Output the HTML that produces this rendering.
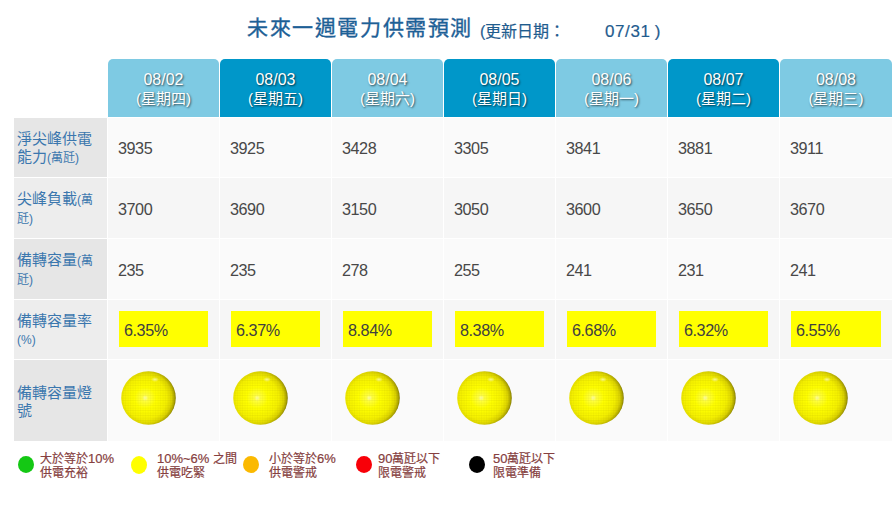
<!DOCTYPE html>
<html lang="zh-TW"><head><meta charset="utf-8">
<style>
*{margin:0;padding:0;box-sizing:border-box}
html,body{width:893px;height:506px;overflow:hidden;background:#fff;font-family:"Liberation Sans",sans-serif}
.a{position:absolute}
.title{left:247px;top:13.5px;font-size:21px;color:#1d6096;white-space:nowrap;line-height:28px;-webkit-text-stroke:0.35px #1d6096;letter-spacing:1.6px}
.sub{font-size:17px;color:#1f5c8e;white-space:nowrap;line-height:20px;-webkit-text-stroke:0.2px #1f5c8e}
.hd{top:59px;width:111px;height:58px;border-radius:5px 5px 0 0;color:#fff;text-align:center;font-size:16px;line-height:18.5px;padding-top:12px;text-shadow:1px 1px 2px rgba(0,0,0,.65)}
.wk{font-size:15px}
.l{background:#7ecae3}.d{background:#0097c9}
.lab{left:14px;width:93px;color:#3b77ae;font-size:15px;line-height:18px;padding-left:3px;padding-top:2px;display:flex;align-items:center}
.lab small{font-size:12px}
.cell{width:111px;color:#484848;font-size:16.2px;letter-spacing:-0.45px;display:flex;align-items:center;padding-left:10px;padding-top:2px}
.pct{width:89px;height:36px;background:#ffff00;color:#404040;font-size:16.2px;letter-spacing:-0.45px;line-height:36px;padding-left:5px;padding-top:1px}
.ball{width:55px;height:54px;border-radius:50%;background:radial-gradient(circle at 45% 45%,#ffff40 0%,#f8f000 45%,#e0d400 85%,#b8a800 100%)}
.lg{width:16px;height:17px;border-radius:50%;top:456px}
.lt{top:452px;font-size:12px;font-weight:normal;-webkit-text-stroke:0.2px #864040;color:#864040;line-height:14px;white-space:nowrap}
.lt b{font-size:13px;line-height:10px;font-weight:normal}
</style></head><body>
<svg width="0" height="0" style="position:absolute"><defs>
<radialGradient id="bg1" cx="0.44" cy="0.5" r="0.56"><stop offset="0" stop-color="#ffffa8"/><stop offset="0.1" stop-color="#ffff40"/><stop offset="0.35" stop-color="#ffff00"/><stop offset="0.7" stop-color="#f4f000"/><stop offset="0.86" stop-color="#dcd400"/><stop offset="0.95" stop-color="#b0a800"/><stop offset="1" stop-color="#807800"/></radialGradient>
<radialGradient id="hl" cx="0.5" cy="0.5" r="0.5"><stop offset="0" stop-color="#fff" stop-opacity="0.55"/><stop offset="1" stop-color="#fff" stop-opacity="0"/></radialGradient>
<pattern id="grid" width="2.5" height="2.5" patternUnits="userSpaceOnUse"><rect x="0" y="1.9" width="2.5" height="0.6" fill="#605000" fill-opacity="0.09"/><rect x="1.9" y="0" width="0.6" height="2.5" fill="#605000" fill-opacity="0.05"/></pattern>

</defs></svg>
<div class="a title">未來一週電力供需預測</div>
<div class="a sub" style="left:480px;top:22px;font-size:16px">(更新日期：</div>
<div class="a sub" style="left:605px;top:22px;letter-spacing:0.6px;word-spacing:-1px">07/31 )</div>

<div class="a hd l" style="left:108px">08/02<br><span class="wk">(星期四)</span></div>
<div class="a hd d" style="left:220px">08/03<br><span class="wk">(星期五)</span></div>
<div class="a hd l" style="left:332px">08/04<br><span class="wk">(星期六)</span></div>
<div class="a hd d" style="left:444px">08/05<br><span class="wk">(星期日)</span></div>
<div class="a hd l" style="left:556px">08/06<br><span class="wk">(星期一)</span></div>
<div class="a hd d" style="left:668px">08/07<br><span class="wk">(星期二)</span></div>
<div class="a hd l" style="left:780px;width:112px">08/08<br><span class="wk">(星期三)</span></div>
<div class="a lab" style="top:118px;height:59px;background:#e6e6e6"><div>淨尖峰供電<br>能力<small>(萬瓩)</small></div></div>
<div class="a cell" style="left:108px;top:118px;height:59px;background:#fafafa">3935</div>
<div class="a cell" style="left:220px;top:118px;height:59px;background:#fafafa">3925</div>
<div class="a cell" style="left:332px;top:118px;height:59px;background:#fafafa">3428</div>
<div class="a cell" style="left:444px;top:118px;height:59px;background:#fafafa">3305</div>
<div class="a cell" style="left:556px;top:118px;height:59px;background:#fafafa">3841</div>
<div class="a cell" style="left:668px;top:118px;height:59px;background:#fafafa">3881</div>
<div class="a cell" style="left:780px;top:118px;height:59px;background:#fafafa;width:112px">3911</div>
<div class="a lab" style="top:178px;height:60px;background:#ededed"><div>尖峰負載<small>(萬<br>瓩)</small></div></div>
<div class="a cell" style="left:108px;top:178px;height:60px;background:#f6f6f6">3700</div>
<div class="a cell" style="left:220px;top:178px;height:60px;background:#f6f6f6">3690</div>
<div class="a cell" style="left:332px;top:178px;height:60px;background:#f6f6f6">3150</div>
<div class="a cell" style="left:444px;top:178px;height:60px;background:#f6f6f6">3050</div>
<div class="a cell" style="left:556px;top:178px;height:60px;background:#f6f6f6">3600</div>
<div class="a cell" style="left:668px;top:178px;height:60px;background:#f6f6f6">3650</div>
<div class="a cell" style="left:780px;top:178px;height:60px;background:#f6f6f6;width:112px">3670</div>
<div class="a lab" style="top:239px;height:60px;background:#e6e6e6"><div>備轉容量<small>(萬<br>瓩)</small></div></div>
<div class="a cell" style="left:108px;top:239px;height:60px;background:#fafafa">235</div>
<div class="a cell" style="left:220px;top:239px;height:60px;background:#fafafa">235</div>
<div class="a cell" style="left:332px;top:239px;height:60px;background:#fafafa">278</div>
<div class="a cell" style="left:444px;top:239px;height:60px;background:#fafafa">255</div>
<div class="a cell" style="left:556px;top:239px;height:60px;background:#fafafa">241</div>
<div class="a cell" style="left:668px;top:239px;height:60px;background:#fafafa">231</div>
<div class="a cell" style="left:780px;top:239px;height:60px;background:#fafafa;width:112px">241</div>
<div class="a lab" style="top:300px;height:59px;background:#ededed"><div>備轉容量率<br><small>(%)</small></div></div>
<div class="a cell" style="left:108px;top:300px;height:59px;background:#f6f6f6"></div>
<div class="a cell" style="left:220px;top:300px;height:59px;background:#f6f6f6"></div>
<div class="a cell" style="left:332px;top:300px;height:59px;background:#f6f6f6"></div>
<div class="a cell" style="left:444px;top:300px;height:59px;background:#f6f6f6"></div>
<div class="a cell" style="left:556px;top:300px;height:59px;background:#f6f6f6"></div>
<div class="a cell" style="left:668px;top:300px;height:59px;background:#f6f6f6"></div>
<div class="a cell" style="left:780px;top:300px;height:59px;background:#f6f6f6;width:112px"></div>
<div class="a pct" style="left:119px;top:311px">6.35%</div>
<div class="a pct" style="left:231px;top:311px">6.37%</div>
<div class="a pct" style="left:343px;top:311px">8.84%</div>
<div class="a pct" style="left:455px;top:311px">8.38%</div>
<div class="a pct" style="left:567px;top:311px">6.68%</div>
<div class="a pct" style="left:679px;top:311px">6.32%</div>
<div class="a pct" style="left:791px;top:311px;width:90px">6.55%</div>
<div class="a lab" style="top:360px;height:81px;background:#e6e6e6"><div>備轉容量燈<br>號</div></div>
<div class="a cell" style="left:108px;top:360px;height:81px;background:#fafafa"></div>
<div class="a cell" style="left:220px;top:360px;height:81px;background:#fafafa"></div>
<div class="a cell" style="left:332px;top:360px;height:81px;background:#fafafa"></div>
<div class="a cell" style="left:444px;top:360px;height:81px;background:#fafafa"></div>
<div class="a cell" style="left:556px;top:360px;height:81px;background:#fafafa"></div>
<div class="a cell" style="left:668px;top:360px;height:81px;background:#fafafa"></div>
<div class="a cell" style="left:780px;top:360px;height:81px;background:#fafafa;width:112px"></div>
<svg class="a" style="left:121px;top:371px" width="55" height="54" viewBox="0 0 55 54"><ellipse cx="27.5" cy="27" rx="27.3" ry="26.8" fill="url(#bg1)"/><ellipse cx="27.5" cy="27" rx="26.5" ry="26" fill="url(#grid)"/><ellipse cx="34" cy="8.5" rx="4" ry="2.5" fill="url(#hl)"/></svg>
<svg class="a" style="left:233px;top:371px" width="55" height="54" viewBox="0 0 55 54"><ellipse cx="27.5" cy="27" rx="27.3" ry="26.8" fill="url(#bg1)"/><ellipse cx="27.5" cy="27" rx="26.5" ry="26" fill="url(#grid)"/><ellipse cx="34" cy="8.5" rx="4" ry="2.5" fill="url(#hl)"/></svg>
<svg class="a" style="left:345px;top:371px" width="55" height="54" viewBox="0 0 55 54"><ellipse cx="27.5" cy="27" rx="27.3" ry="26.8" fill="url(#bg1)"/><ellipse cx="27.5" cy="27" rx="26.5" ry="26" fill="url(#grid)"/><ellipse cx="34" cy="8.5" rx="4" ry="2.5" fill="url(#hl)"/></svg>
<svg class="a" style="left:457px;top:371px" width="55" height="54" viewBox="0 0 55 54"><ellipse cx="27.5" cy="27" rx="27.3" ry="26.8" fill="url(#bg1)"/><ellipse cx="27.5" cy="27" rx="26.5" ry="26" fill="url(#grid)"/><ellipse cx="34" cy="8.5" rx="4" ry="2.5" fill="url(#hl)"/></svg>
<svg class="a" style="left:569px;top:371px" width="55" height="54" viewBox="0 0 55 54"><ellipse cx="27.5" cy="27" rx="27.3" ry="26.8" fill="url(#bg1)"/><ellipse cx="27.5" cy="27" rx="26.5" ry="26" fill="url(#grid)"/><ellipse cx="34" cy="8.5" rx="4" ry="2.5" fill="url(#hl)"/></svg>
<svg class="a" style="left:681px;top:371px" width="55" height="54" viewBox="0 0 55 54"><ellipse cx="27.5" cy="27" rx="27.3" ry="26.8" fill="url(#bg1)"/><ellipse cx="27.5" cy="27" rx="26.5" ry="26" fill="url(#grid)"/><ellipse cx="34" cy="8.5" rx="4" ry="2.5" fill="url(#hl)"/></svg>
<svg class="a" style="left:793px;top:371px" width="55" height="54" viewBox="0 0 55 54"><ellipse cx="27.5" cy="27" rx="27.3" ry="26.8" fill="url(#bg1)"/><ellipse cx="27.5" cy="27" rx="26.5" ry="26" fill="url(#grid)"/><ellipse cx="34" cy="8.5" rx="4" ry="2.5" fill="url(#hl)"/></svg>
<div class="a lg" style="left:18px;background:#14c814"></div>
<div class="a lt" style="left:40px">大於等於<b>10%</b><br>供電充裕</div>
<div class="a lg" style="left:131px;background:#ffff00;height:18px"></div>
<div class="a lt" style="left:157px"><b>10%~6% </b>之間<br>供電吃緊</div>
<div class="a lg" style="left:243px;background:#fbb900"></div>
<div class="a lt" style="left:269px">小於等於<b>6%</b><br>供電警戒</div>
<div class="a lg" style="left:356px;background:#f80008"></div>
<div class="a lt" style="left:378px"><b>90</b>萬瓩以下<br>限電警戒</div>
<div class="a lg" style="left:469px;background:#000000"></div>
<div class="a lt" style="left:493px"><b>50</b>萬瓩以下<br>限電準備</div>
</body></html>
